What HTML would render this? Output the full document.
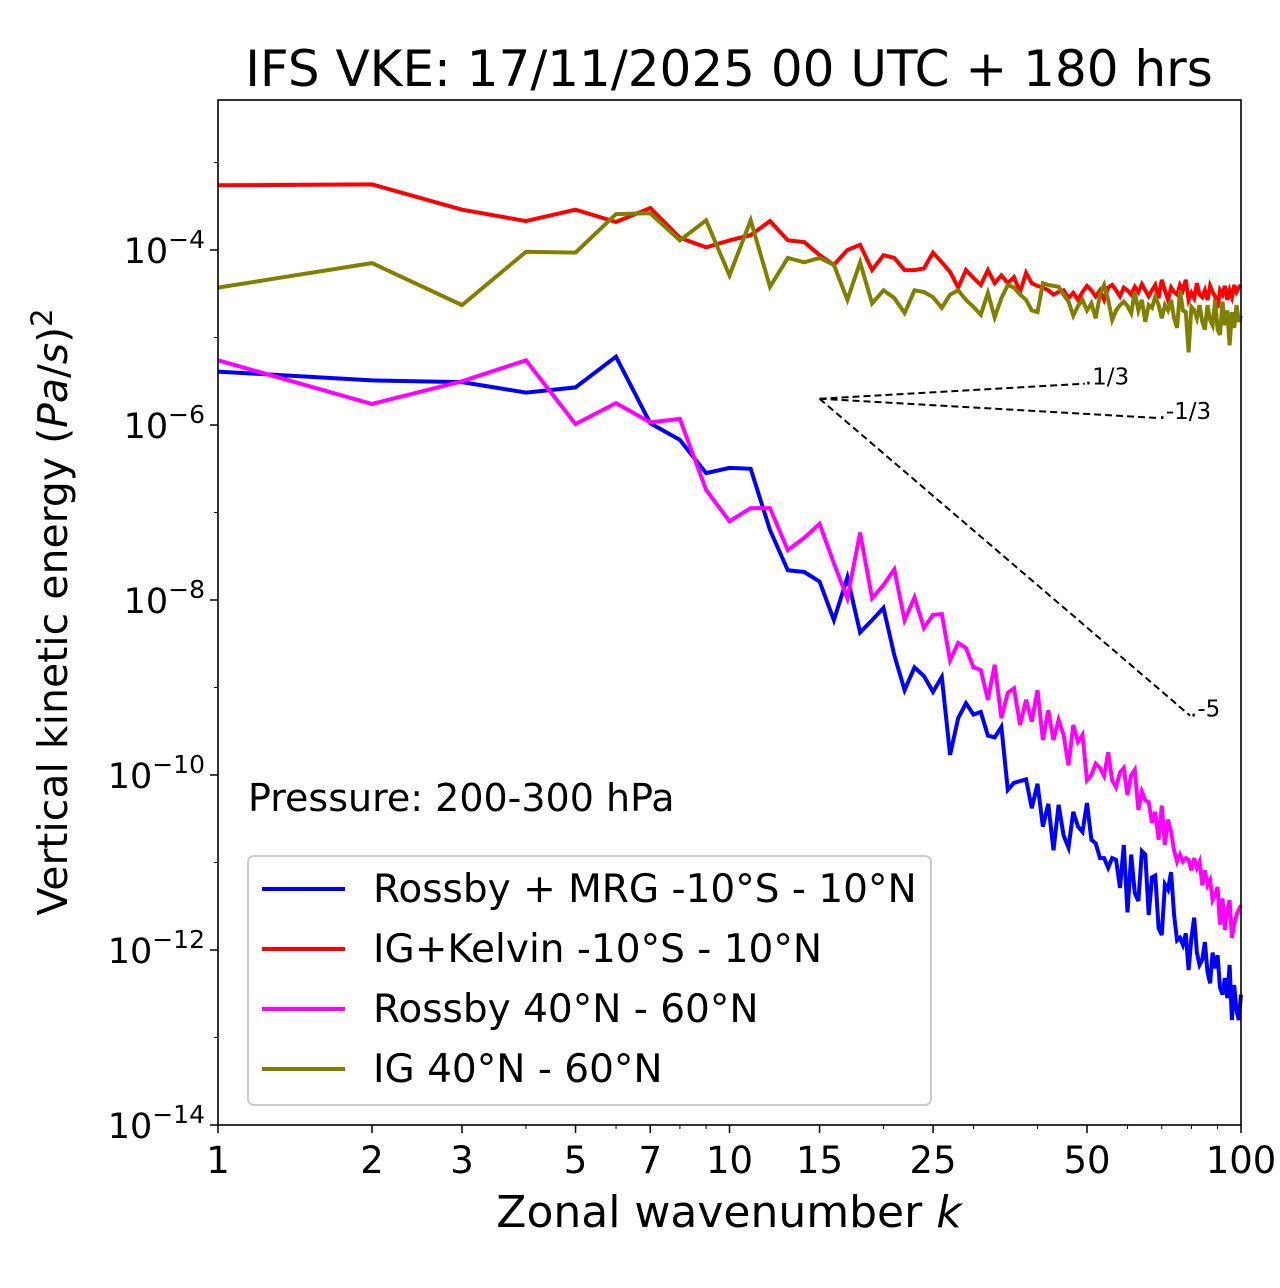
<!DOCTYPE html>
<html><head><meta charset="utf-8"><style>
body{margin:0;background:#fff;}
svg{display:block;font-family:"DejaVu Sans","Liberation Sans",sans-serif;}
</style></head><body>
<svg id="chart" width="1280" height="1288" viewBox="0 0 1280 1288" xmlns="http://www.w3.org/2000/svg">
<rect width="1280" height="1288" fill="#fff"/>
<text x="729" y="86" font-size="50" text-anchor="middle">IFS VKE: 17/11/2025 00 UTC + 180 hrs</text>
<g id="plot"></g>
<text x="729" y="1227" font-size="44" text-anchor="middle">Zonal wavenumber <tspan font-style="italic">k</tspan></text>
<text transform="translate(67,612) rotate(-90)" font-size="41" text-anchor="middle">Vertical kinetic energy (<tspan font-style="italic">Pa</tspan>/<tspan font-style="italic">s</tspan>)<tspan dy="-15" font-size="29">2</tspan></text>
</svg>
<script>
const rossbyMrgEq = [-5.39,-5.49,-5.51,-5.63,-5.57,-5.22,-5.98,-6.17,-6.55,-6.49,-6.50,-7.20,-7.66,-7.68,-7.79,-8.23,-7.74,-8.37,-8.23,-8.09,-8.63,-9.03,-8.77,-8.87,-9.05,-8.88,-9.77,-9.35,-9.18,-9.31,-9.28,-9.55,-9.57,-9.45,-10.17,-10.09,-10.07,-10.05,-10.38,-10.10,-10.59,-10.33,-10.86,-10.34,-10.69,-10.83,-10.42,-10.59,-10.65,-10.32,-10.74,-10.78,-10.95,-10.95,-11.06,-10.95,-10.97,-11.29,-10.80,-11.57,-10.91,-11.35,-11.44,-10.87,-10.91,-11.60,-11.17,-11.15,-11.75,-11.83,-11.25,-11.31,-11.11,-11.60,-11.89,-11.86,-11.94,-11.81,-12.23,-11.86,-11.63,-12.03,-12.17,-12.11,-11.91,-12.25,-12.38,-12.03,-12.21,-12.06,-12.43,-12.51,-12.32,-12.55,-12.17,-12.80,-12.40,-12.69,-12.80,-12.51];
const igKelvinEq = [-3.26,-3.25,-3.54,-3.67,-3.54,-3.68,-3.52,-3.86,-3.97,-3.89,-3.83,-3.67,-3.89,-3.91,-4.06,-4.17,-4.00,-3.94,-4.23,-4.06,-4.09,-4.23,-4.23,-4.21,-4.03,-4.14,-4.25,-4.43,-4.23,-4.32,-4.40,-4.23,-4.38,-4.29,-4.38,-4.31,-4.48,-4.26,-4.38,-4.41,-4.43,-4.46,-4.51,-4.48,-4.46,-4.55,-4.49,-4.57,-4.48,-4.41,-4.46,-4.53,-4.46,-4.57,-4.43,-4.40,-4.46,-4.53,-4.43,-4.46,-4.51,-4.42,-4.48,-4.39,-4.46,-4.53,-4.46,-4.40,-4.55,-4.34,-4.46,-4.57,-4.43,-4.48,-4.51,-4.40,-4.46,-4.34,-4.57,-4.49,-4.55,-4.38,-4.51,-4.54,-4.46,-4.57,-4.41,-4.48,-4.53,-4.66,-4.46,-4.51,-4.41,-4.57,-4.46,-4.54,-4.40,-4.48,-4.43,-4.40];
const rossbyMid = [-5.26,-5.76,-5.50,-5.26,-5.99,-5.75,-5.97,-5.93,-6.74,-7.10,-6.95,-6.95,-7.43,-7.29,-7.13,-7.58,-7.98,-7.23,-7.98,-7.83,-7.65,-8.23,-7.97,-8.32,-8.17,-8.16,-8.69,-8.49,-8.55,-8.77,-8.80,-9.14,-8.74,-9.35,-9.06,-9.01,-9.43,-9.14,-9.39,-9.03,-9.60,-9.26,-9.60,-9.37,-9.54,-9.89,-9.43,-9.62,-9.54,-10.06,-10.00,-9.87,-9.92,-10.01,-9.74,-10.06,-10.14,-9.97,-9.92,-10.23,-10.00,-9.94,-10.40,-10.19,-10.29,-10.31,-10.55,-10.42,-10.74,-10.35,-10.80,-10.51,-10.65,-10.86,-10.99,-10.91,-10.99,-10.95,-10.97,-11.09,-10.95,-11.06,-10.99,-11.26,-11.09,-11.26,-11.20,-11.43,-11.37,-11.28,-11.71,-11.41,-11.77,-11.54,-11.43,-11.86,-11.71,-11.60,-11.54,-11.49];
const igMid = [-4.43,-4.15,-4.63,-4.02,-4.03,-3.59,-3.58,-3.89,-3.66,-4.29,-3.66,-4.42,-4.09,-4.14,-4.09,-4.17,-4.57,-4.14,-4.61,-4.46,-4.55,-4.72,-4.46,-4.48,-4.54,-4.66,-4.51,-4.46,-4.57,-4.65,-4.74,-4.49,-4.77,-4.55,-4.40,-4.43,-4.51,-4.57,-4.69,-4.71,-4.38,-4.40,-4.41,-4.42,-4.51,-4.59,-4.75,-4.64,-4.57,-4.69,-4.61,-4.78,-4.51,-4.40,-4.57,-4.80,-4.69,-4.63,-4.59,-4.64,-4.72,-4.48,-4.69,-4.57,-4.82,-4.63,-4.66,-4.53,-4.63,-4.78,-4.63,-4.69,-4.57,-4.78,-4.89,-4.46,-4.69,-4.71,-5.17,-4.65,-4.69,-4.78,-4.63,-4.82,-4.91,-4.63,-4.80,-4.86,-4.57,-4.91,-4.97,-4.59,-4.86,-4.69,-5.09,-4.71,-4.89,-4.63,-4.82,-4.75];
const xTickLabels = [1,2,3,5,7,10,15,25,50,100];
const xMinorTicks = [4,6,8,9,20,30,40,60,70,80,90];
const yTickExps = [-4,-6,-8,-10,-12,-14];
const slopes = [1/3,-1/3,-5];
const slopeLabels = ["1/3","-1/3","-5"];
const slopeEndK = [49.5,69,79.5];
const slopeStartK = 15, slopeStartExp = -5.70;

const NS="http://www.w3.org/2000/svg";
const L=218,R=1241,T=100,B=1125;
const xs=k=>L+(R-L)/2*Math.log10(k);
const ys=e=>B-(e+14)*87.5;
const plot=document.getElementById('plot');
function mk(tag,attrs,parent){const e=document.createElementNS(NS,tag);for(const a in attrs)e.setAttribute(a,attrs[a]);(parent||plot).appendChild(e);return e;}

const series=[[rossbyMrgEq,'#0000ff','line-rossby-mrg-eq'],[igKelvinEq,'#ff0000','line-ig-kelvin-eq'],[rossbyMid,'#ff00ff','line-rossby-midlat'],[igMid,'#808000','line-ig-midlat']];
const order=[1,3,0,2];
order.forEach(i=>{const [d,c,n]=series[i];
 const p=mk('polyline',{points:d.map((v,j)=>xs(j+1).toFixed(1)+','+ys(v).toFixed(1)).join(' '),fill:'none',stroke:c,'stroke-width':4,'stroke-linejoin':'miter'});
 
 
});

slopes.forEach((s,i)=>{
 const x1=xs(slopeStartK),y1=ys(slopeStartExp);
 const e2=slopeStartExp+s*Math.log10(slopeEndK[i]/slopeStartK);
 const x2=xs(slopeEndK[i]),y2=ys(e2);
 const l=mk('line',{x1:x1,y1:y1,x2:x2,y2:y2,stroke:'#000','stroke-width':2,'stroke-dasharray':'7,4'});
 
 
 const t=mk('text',{x:x2,y:y2+1,'font-size':23});
 t.textContent='.'+slopeLabels[i];
 
 
});

const frame=mk('rect',{x:L,y:T,width:R-L,height:B-T,fill:'none',stroke:'#000','stroke-width':1.6});



xTickLabels.forEach(k=>{const x=xs(k);
 mk('line',{x1:x,y1:B,x2:x,y2:B+8,stroke:'#000','stroke-width':1.5});
 const t=mk('text',{x:x,y:B+48,'font-size':37,'text-anchor':'middle'});t.textContent=k;
 
 
});
xMinorTicks.forEach(k=>{const x=xs(k);mk('line',{x1:x,y1:B,x2:x,y2:B+4,stroke:'#000','stroke-width':1});});
for(let e=-14;e<=-3;e++){const y=ys(e);if(y<T)continue;
 const major=yTickExps.includes(e);
 mk('line',{x1:L,y1:y,x2:L-(major?8:4),y2:y,stroke:'#000','stroke-width':major?1.5:1});
}
yTickExps.forEach(e=>{const y=ys(e);
 const t=mk('text',{x:205,y:y+13,'font-size':35,'text-anchor':'end'});
 t.innerHTML='10<tspan dy="-15" font-size="25">−'+(-e)+'</tspan>';
 
 
});

const pr=mk('text',{x:248,y:811,'font-size':38});pr.textContent='Pressure: 200-300 hPa';



const lg=mk('g',{});


mk('rect',{x:248,y:856,width:683,height:249,rx:6,fill:'#fff','fill-opacity':0.8,stroke:'#cccccc','stroke-width':2},lg);
const legendNames=['Rossby + MRG -10°S - 10°N','IG+Kelvin -10°S - 10°N','Rossby 40°N - 60°N','IG 40°N - 60°N'];
series.forEach((s,i)=>{const y=889+i*60;
 const g=mk('g',{},lg);
 
 
 mk('line',{x1:262,y1:y,x2:345,y2:y,stroke:s[1],'stroke-width':4},g);
 const t=mk('text',{x:373,y:y+13,'font-size':39},g);t.textContent=legendNames[i];
});
</script>
</body></html>
